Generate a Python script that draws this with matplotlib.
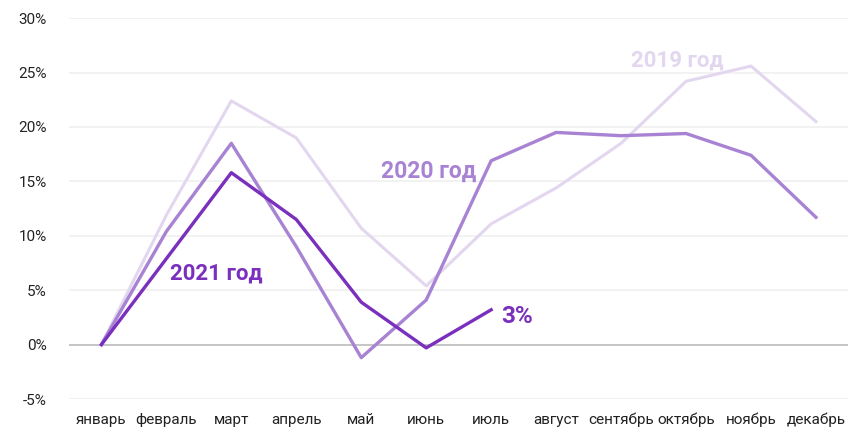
import matplotlib.pyplot as plt
from matplotlib.ticker import FuncFormatter

months = ["январь", "февраль", "март", "апрель", "май", "июнь",
          "июль", "август", "сентябрь", "октябрь", "ноябрь", "декабрь"]
y2019 = [0, 11.9, 22.4, 19.0, 10.7, 5.4, 11.1, 14.4, 18.5, 24.2, 25.6, 20.5]
y2020 = [0, 10.4, 18.5, 9.0, -1.2, 4.1, 16.9, 19.5, 19.2, 19.4, 17.4, 11.7]
y2021 = [0, 7.9, 15.8, 11.5, 3.9, -0.3, 3.2]

c2019 = "#e3d7f0"
c2020 = "#a883d3"
c2021 = "#7a30bd"

plt.rcParams["font.family"] = ["Roboto", "DejaVu Sans"]

fig = plt.figure(figsize=(8.51, 4.33), dpi=100)
ax = fig.add_axes([0.081, 0.0785, 0.916, 0.8795])

x = list(range(len(months)))
ax.plot(x, y2019, color=c2019, lw=2.2, zorder=2)
ax.plot(x, y2020, color=c2020, lw=2.4, zorder=3)
ax.plot(x[:len(y2021)], y2021, color=c2021, lw=2.4, zorder=4)

ax.set_xlim(-0.5, 11.5)
ax.set_ylim(-5, 30)
ax.set_yticks(range(-5, 31, 5))
ax.yaxis.set_major_formatter(FuncFormatter(lambda v, p: f"{v:.0f}%"))
ax.set_xticks(x)
ax.set_xticklabels(months)
ax.tick_params(length=0, labelsize=11, colors="#222222")
ax.tick_params(axis="y", pad=16)
ax.tick_params(axis="x", pad=10)

for v in range(-5, 31, 5):
    ax.axhline(v, color="#bbbbbb" if v == 0 else "#f0f0f0", lw=1.2, zorder=1)
for s in ax.spines.values():
    s.set_visible(False)

ax.text(1.05, 6.0, "2021 год", color=c2021, fontsize=16, fontweight="bold")
ax.text(4.3, 15.3, "2020 год", color=c2020, fontsize=16.5, fontweight="bold")
ax.text(8.15, 25.6, "2019 год", color=c2019, fontsize=16, fontweight="bold")
ax.text(6.15, 2.0, "3%", color=c2021, fontsize=17.5, fontweight="bold")

fig.savefig("out.png", dpi=100)
